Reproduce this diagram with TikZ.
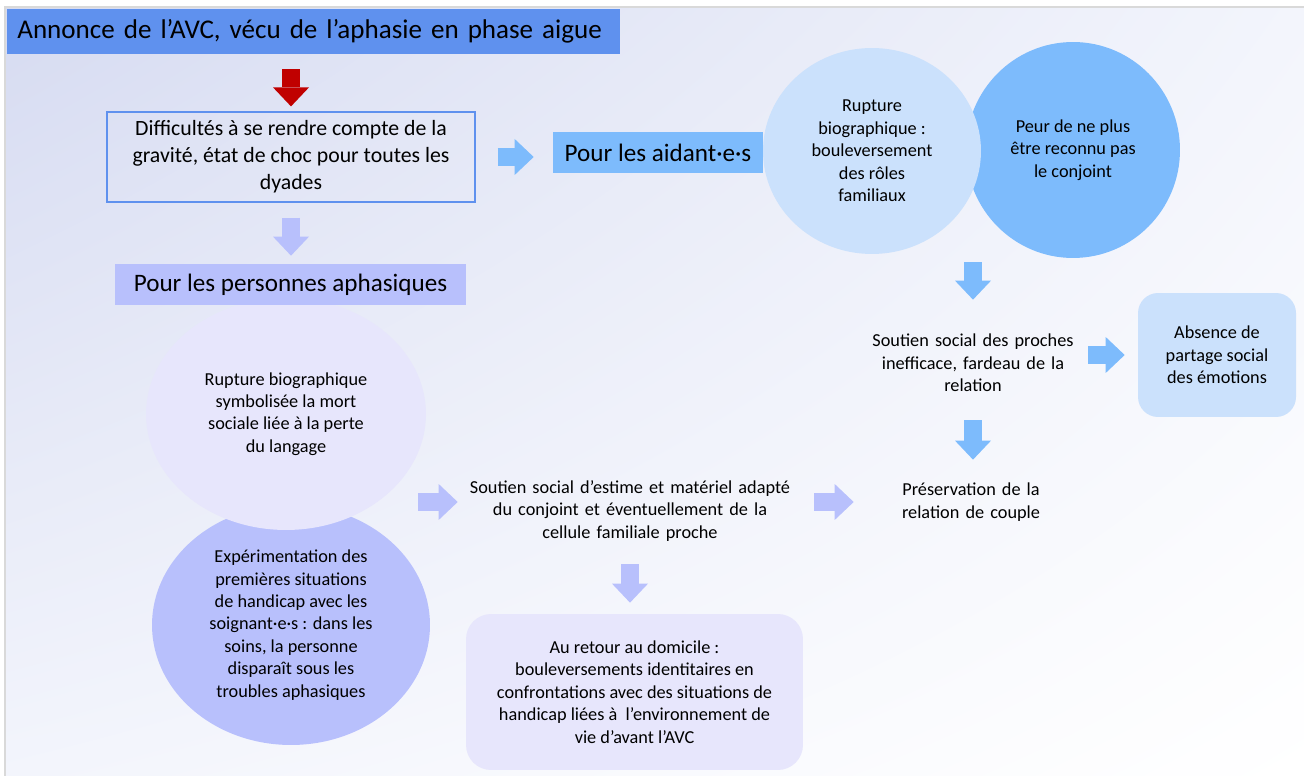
\documentclass[tikz,border=0pt]{standalone}
\usepackage{fontspec}
\setmainfont{Carlito}
\usetikzlibrary{shapes.geometric,arrows.meta,shadings}

\definecolor{titleblue}{HTML}{5F91EE}
\definecolor{aidblue}{HTML}{7DBBFC}
\definecolor{paleblue}{HTML}{CBE1FC}
\definecolor{arrowred}{HTML}{C00000}
\definecolor{lavender}{HTML}{B8C0FC}
\definecolor{palelav}{HTML}{E7E6FC}
\definecolor{bgtop}{HTML}{D6DBF1}
\definecolor{bgmid}{HTML}{F3F5FC}

\tikzset{
  smalltext/.style={font=\fontsize{10.4}{12.75}\selectfont},
  bigtext/.style={font=\fontsize{14.3}{17}\selectfont},
  bubble/.style={ellipse,inner sep=0pt,align=center,smalltext},
  tag/.style={minimum height=0.82cm,inner sep=0pt,bigtext},
  blockarrow/.style={line width=0.36cm,-{Triangle[length=0.38cm,width=0.72cm,line width=0pt]}},
  redarrow/.style={blockarrow,draw=arrowred},
  bluearrow/.style={blockarrow,draw=aidblue},
  lavarrow/.style={blockarrow,draw=lavender}
}

\begin{document}
\begin{tikzpicture}[x=0.02cm,y=-0.02cm]
  \useasboundingbox (0,0) rectangle (1304,776);
  % slide background
  \fill[white] (0,0) rectangle (1304,776);
  \shade[upper left=bgtop,upper right=bgmid,lower left=bgmid,lower right=white] (5,7) rectangle (1304,776);
  \draw[gray!30,line width=0.05cm] (1304,7) -- (5,7) -- (5,776);

  \node[fill=titleblue,anchor=west,text width=11.86cm,align=left,inner xsep=0.2cm,inner ysep=0pt,
        minimum height=0.9cm,font=\fontsize{15.4}{18}\selectfont] (title) at (7,31.5)
        {Annonce de l’AVC, vécu de l’aphasie en phase aigue};
  \node[draw=titleblue,line width=0.7pt,minimum width=7.36cm,minimum height=1.8cm,align=center,
        font=\fontsize{12.4}{15.3}\selectfont] (diff) at (291,157)
        {Difficultés à se rendre compte de la\\gravité, état de choc pour toutes les\\dyades};

  % aidants
  \node[tag,fill=aidblue,minimum width=4.2cm] (aid) at (658,152.5) {Pour les aidant·e·s};
  \node[bubble,fill=aidblue,minimum width=4.28cm,minimum height=4.32cm] (peur) at (1073,150)
        {Peur de ne plus\\être reconnu pas\\le conjoint};
  \node[bubble,fill=paleblue,minimum width=4.36cm,minimum height=4.12cm] (rupA) at (872,151)
        {Rupture\\biographique :\\bouleversement\\des rôles\\familiaux};
  \node[smalltext,align=center,text width=4.2cm,minimum height=2cm,inner sep=0pt] (soutienP) at (973,363)
        {Soutien social des proches\\inefficace, fardeau de la\\relation};
  \node[smalltext,fill=paleblue,rounded corners=0.4cm,minimum width=3.16cm,minimum height=2.48cm,
        align=center] (absence) at (1217,355)
        {Absence de\\partage social\\des émotions};
  \node[smalltext,align=center,text width=4cm,minimum height=1.2cm,inner sep=0pt] (preserv) at (971,502)
        {Préservation de la\\relation de couple};

  % personnes aphasiques
  \node[bubble,fill=lavender,minimum width=5.56cm,minimum height=4.8cm] (exper) at (291,625)
        {Expérimentation des\\premières situations\\de handicap avec les\\soignant·e·s : dans les\\soins, la personne\\disparaît sous les\\troubles aphasiques};
  \node[bubble,fill=palelav,minimum width=5.6cm,minimum height=4.64cm] (rupB) at (286,414)
        {Rupture biographique\\symbolisée la mort\\sociale liée à la perte\\du langage};
  \node[tag,fill=lavender,minimum width=7.02cm] (perso) at (290.5,284.5) {Pour les personnes aphasiques};
  \node[smalltext,align=center,text width=6.6cm,minimum height=1.6cm,inner sep=0pt] (estime) at (630,511)
        {Soutien social d’estime et matériel adapté\\du conjoint et éventuellement de la\\cellule familiale proche};
  \node[smalltext,fill=palelav,rounded corners=0.5cm,minimum width=6.74cm,minimum height=3.12cm,
        align=center] (retour) at (634.5,692)
        {Au retour au domicile :\\bouleversements identitaires en\\confrontations avec des situations de\\handicap liées à \ l’environnement de\\vie d’avant l’AVC};

  % block arrows
  \draw[redarrow,shorten <=0.3cm,shorten >=0.1cm] (diff.north |- title.south) -- (diff.north);
  \draw[lavarrow,shorten <=0.3cm,shorten >=0.16cm] (diff.south) -- (diff.south |- perso.north);
  \draw[bluearrow,shorten <=0.44cm,shorten >=0.38cm] (diff.east) -- (diff.east -| aid.west);
  \draw[bluearrow,shorten <=0.08cm,shorten >=0.26cm] (soutienP.north |- peur.south) -- (soutienP.north);
  \draw[bluearrow,shorten <=0.2cm,shorten >=0.26cm] (soutienP.east |- absence.west) -- (absence.west);
  \draw[bluearrow,shorten <=0.14cm,shorten >=0.24cm] (soutienP.south) -- (soutienP.south |- preserv.north);
  \draw[lavarrow,shorten <=-0.16cm,shorten >=0.14cm] (rupB.east |- preserv.west) -- (estime.west |- preserv.west);
  \draw[lavarrow,shorten <=0.38cm,shorten >=0.34cm] (estime.east |- preserv.west) -- (preserv.west);
  \draw[lavarrow,shorten <=0.26cm,shorten >=0.22cm] (estime.south) -- (estime.south |- retour.north);
\end{tikzpicture}
\end{document}
